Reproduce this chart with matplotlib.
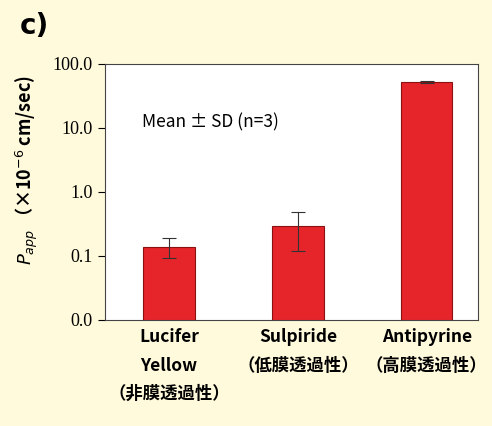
import matplotlib
matplotlib.use("Agg")
import matplotlib.pyplot as plt
import numpy as np

categories = ["Lucifer\nYellow\n（非膜透過性）", "Sulpiride\n（低膜透過性）", "Antipyrine\n（高膜透過性）"]
values = [0.138, 0.295, 52.0]
err_low = [0.093, 0.12, 50.5]
err_high = [0.19, 0.48, 53.5]
yticks = [0.01, 0.1, 1, 10, 100]
yticklabels = ["0.0", "0.1", "1.0", "10.0", "100.0"]

bg = "#FFFADC"
fig = plt.figure(figsize=(4.92, 4.26), dpi=100, facecolor=bg)
ax = fig.add_axes([0.213, 0.249, 0.759, 0.601])
x = np.arange(len(values))
v = np.array(values)
yerr = [v - np.array(err_low), np.array(err_high) - v]
ax.bar(x, v, width=0.4, color="#E5252A", edgecolor="#8B1010", linewidth=0.8,
       yerr=yerr, error_kw=dict(ecolor="#333333", elinewidth=0.8, capsize=5, capthick=0.8))
ax.set_yscale("log")
ax.set_ylim(0.01, 100)
ax.set_xlim(-0.5, 2.4)
ax.set_yticks(yticks)
ax.set_yticklabels(yticklabels, fontfamily="Liberation Serif", fontsize=13)
ax.minorticks_off()
ax.set_xticks(x)
ax.set_xticklabels(categories, fontfamily=["Noto Sans CJK JP", "DejaVu Sans"], fontweight="bold",
                   fontsize=12.5, linespacing=1.75, va="top")
ax.tick_params(axis="x", length=0, pad=6)
ax.tick_params(axis="y", direction="out", length=5)
for s in ax.spines.values():
    s.set_color("#444444")
    s.set_linewidth(0.8)
ax.text(0.1, 0.75, "Mean ± SD (n=3)", transform=ax.transAxes, fontsize=12.5,
        fontfamily=["Noto Sans CJK JP", "DejaVu Sans"])
fig.text(0.055, 0.6, "$\\boldsymbol{P_{app}}$ （×10$^{-6}$ cm/sec)", rotation=90, ha="center", va="center",
         fontsize=13, fontweight="bold", fontfamily=["Noto Sans CJK JP", "DejaVu Sans"])
fig.text(0.04, 0.92, "c)", fontsize=20, fontweight="bold", fontfamily="DejaVu Sans")
fig.savefig("out.png", dpi=100, facecolor=bg)
